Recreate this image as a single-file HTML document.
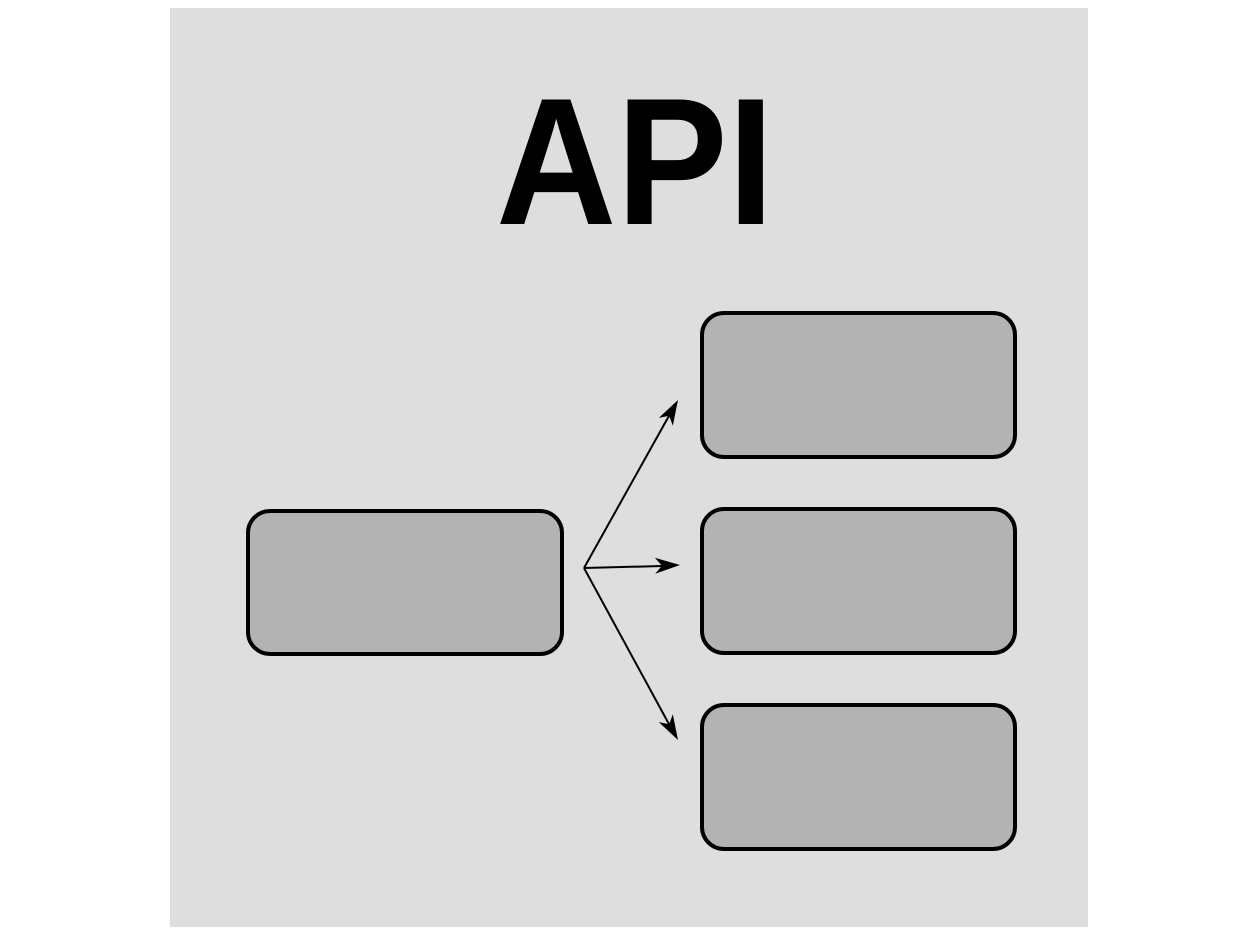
<!DOCTYPE html>
<html><head><style>html,body{margin:0;padding:0;background:#fff}</style></head>
<body>
<svg width="1249" height="937" viewBox="0 0 1249 937" xmlns="http://www.w3.org/2000/svg">
<rect x="170" y="8" width="918" height="919" fill="#dedede"/>
<text x="496" y="224" font-family="Liberation Sans, sans-serif" font-weight="bold" font-size="181" textLength="278" lengthAdjust="spacingAndGlyphs" fill="#000">API</text>
<g fill="#b3b3b3" stroke="#000" stroke-width="4">
<rect x="248" y="511" width="314" height="143" rx="22"/>
<rect x="702" y="313" width="313" height="144" rx="22"/>
<rect x="702" y="509" width="313" height="144" rx="22"/>
<rect x="702" y="705" width="313" height="144" rx="22"/>
</g>
<g stroke="#000" stroke-width="2" fill="none">
<line x1="584" y1="568" x2="670" y2="414"/>
<line x1="584" y1="568" x2="662" y2="566"/>
<line x1="584" y1="568" x2="670" y2="726"/>
</g>
<g fill="#000">
<polygon points="678,400 672.8,425.7 669.2,415.7 658.8,417.9"/>
<polygon points="680,565 655.2,573.8 662,565.6 654.8,557.8"/>
<polygon points="678,740 658.8,722.1 669.2,724.3 672.8,714.3"/>
</g>
</svg>
</body></html>
